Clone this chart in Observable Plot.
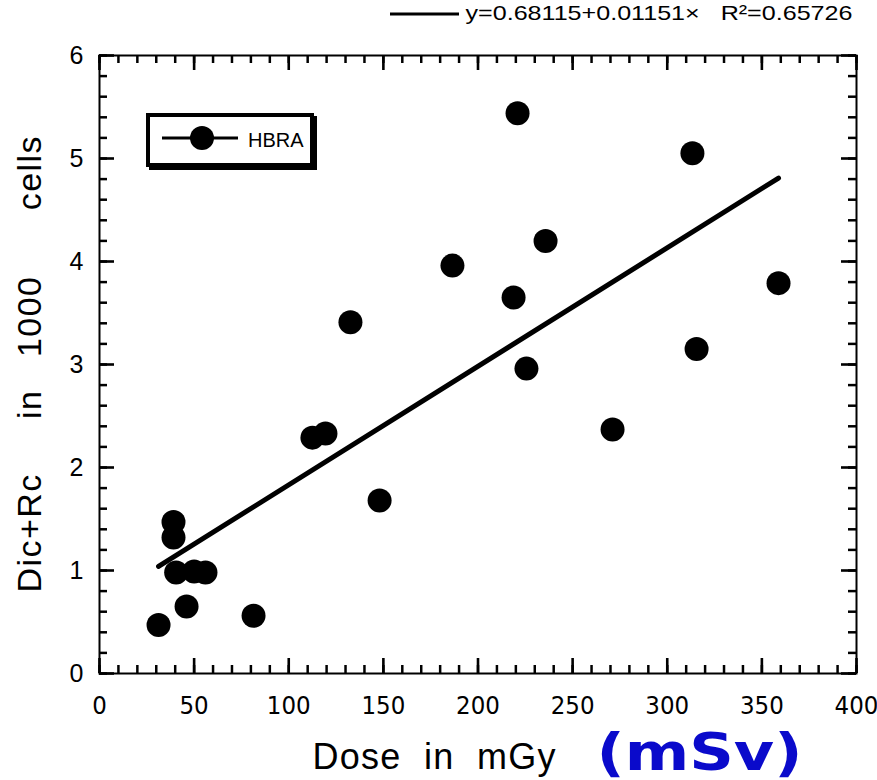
<!DOCTYPE html>
<html>
<head>
<meta charset="utf-8">
<script src="https://cdn.jsdelivr.net/npm/d3@7"></script>
<script src="https://cdn.jsdelivr.net/npm/@observablehq/plot@0.6"></script>
<style>
  html, body { margin: 0; padding: 0; background: #fff; }
  svg text { white-space: pre; }
</style>
</head>
<body>
<div id="chart"></div>
<script>
// ---- data ----
const doses = [31.2, 39.1, 39.1, 40.5, 46.0, 50.0, 56.0, 81.4, 112.5, 119.4, 132.6, 148.0,
               186.5, 218.8, 220.9, 225.6, 235.7, 271.1, 313.3, 315.5, 358.8];
const aberrations = [0.47, 1.47, 1.32, 0.98, 0.65, 0.99, 0.98, 0.56, 2.29, 2.33, 3.41, 1.68,
                     3.96, 3.65, 5.44, 2.96, 4.20, 2.37, 5.05, 3.15, 3.79];
const fitX = [31.2, 358.8];
const fitY = [1.04, 4.81];
const xTicks = [0, 50, 100, 150, 200, 250, 300, 350, 400];
const yTicks = [0, 1, 2, 3, 4, 5, 6];
const xMinorTicks = d3.range(0, 401, 10);
const yMinorTicks = d3.range(0, 31).map(i => i / 5);
const seriesName = "HBRA";
const fitLabel = "y=0.68115+0.01151×   R²=0.65726";
const xTitle = "Dose  in  mGy";
const xUnit = "(mSv)";
const yTitle = "Dic+Rc     in   1000      cells";

const points = doses.map((d, i) => ({dose: d, ab: aberrations[i]}));
const fit = fitX.map((d, i) => ({dose: d, ab: fitY[i]}));

const W = 877, H = 780;
const mL = 99, mR = 21, mT = 55, mB = 107;
const fW = W - mL - mR, fH = H - mT - mB;
const xDom = [0, 400], yDom = [0, 6];
const sans = "Liberation Sans, Arial, Helvetica, sans-serif";
const narrow = "Liberation Sans Narrow, Arial Narrow, DejaVu Sans Condensed, sans-serif";

const minor = {stroke: "black", strokeWidth: 2.5};
const major = {stroke: "black", strokeWidth: 2.6};
const minLen = 8, majLen = 15;

const chart = Plot.plot({
  width: W, height: H,
  marginLeft: mL, marginRight: mR, marginTop: mT, marginBottom: mB,
  x: {domain: xDom},
  y: {domain: yDom},
  marks: [
    Plot.frame({stroke: "black", strokeWidth: 2}),
    Plot.axisX({ticks: xTicks, tickSize: 0, tickPadding: 22, fontSize: 25.5, fontFamily: narrow, label: null, tickFormat: d => String(d)}),
    Plot.axisY({ticks: yTicks, tickSize: 0, tickPadding: 16, fontSize: 25, fontFamily: sans, label: null, tickFormat: d => String(d)}),
    // inward tick marks on all four sides
    Plot.ruleX(xMinorTicks, {x: d => d, y1: 0, y2: minLen * 6 / fH, ...minor}),
    Plot.ruleX(xMinorTicks, {x: d => d, y1: 6 - minLen * 6 / fH, y2: 6, ...minor}),
    Plot.ruleX(xTicks, {x: d => d, y1: 0, y2: majLen * 6 / fH, ...major}),
    Plot.ruleX(xTicks, {x: d => d, y1: 6 - majLen * 6 / fH, y2: 6, ...major}),
    Plot.ruleY(yMinorTicks, {y: d => d, x1: 0, x2: minLen * 400 / fW, ...minor}),
    Plot.ruleY(yMinorTicks, {y: d => d, x1: 400 - minLen * 400 / fW, x2: 400, ...minor}),
    Plot.ruleY(yTicks, {y: d => d, x1: 0, x2: majLen * 400 / fW, ...major}),
    Plot.ruleY(yTicks, {y: d => d, x1: 400 - majLen * 400 / fW, x2: 400, ...major}),
    // regression line and data
    Plot.line(fit, {x: "dose", y: "ab", stroke: "black", strokeWidth: 5, strokeLinecap: "round"}),
    Plot.dot(points, {x: "dose", y: "ab", r: 12, fill: "black", stroke: "none"}),
    // texts
    Plot.text([fitLabel], {frameAnchor: "top-right", dx: -4, dy: 13 - mT, textAnchor: "end", lineAnchor: "middle", fontSize: 21, fontFamily: sans}),
    Plot.text([yTitle], {frameAnchor: "left", dx: 30 - mL, dy: 0, rotate: -90, textAnchor: "middle", lineAnchor: "middle", fontSize: 34, fontFamily: sans}),
    Plot.text([xTitle], {frameAnchor: "bottom-left", dx: 312 - mL, dy: 757 - (H - mB), textAnchor: "start", lineAnchor: "middle", fontSize: 36, fontFamily: sans}),
    Plot.text([xUnit], {frameAnchor: "bottom-left", dx: 596 - mL, dy: 753 - (H - mB), textAnchor: "start", lineAnchor: "middle", fontSize: 51, fontWeight: "bold", fontFamily: "DejaVu Sans, Verdana, sans-serif", fill: "#0a0acb"})
  ]
});
chart.style.background = "white";
document.getElementById("chart").appendChild(chart);

const svg = d3.select(chart);

// inner legend box (with a small drop shadow), its line, dot and label
const g = svg.append("g");
g.append("rect").attr("x", 151).attr("y", 118).attr("width", 164).attr("height", 50)
  .attr("fill", "black").attr("stroke", "black").attr("stroke-width", 4);
g.append("rect").attr("x", 148).attr("y", 115).attr("width", 164).attr("height", 50)
  .attr("fill", "white").attr("stroke", "black").attr("stroke-width", 4);
g.append("line").attr("x1", 162).attr("x2", 238).attr("y1", 138).attr("y2", 138)
  .attr("stroke", "black").attr("stroke-width", 3);
g.append("circle").attr("cx", 202).attr("cy", 138).attr("r", 12).attr("fill", "black");
g.append("text").attr("x", 248).attr("y", 147).attr("font-size", 20)
  .attr("font-family", sans).attr("text-anchor", "start").attr("fill", "black").text(seriesName);
// top fit legend line
g.append("line").attr("x1", 390).attr("x2", 459).attr("y1", 14).attr("y2", 14)
  .attr("stroke", "black").attr("stroke-width", 3);

// stretch some labels to the widths seen in the reference
svg.selectAll("text").each(function() {
  const t = this.textContent;
  const widths = {};
  widths[fitLabel] = 387;
  widths[yTitle] = 456;
  widths[xTitle] = 243;
  widths[xUnit] = 206;
  if (t in widths) {
    this.setAttribute("textLength", widths[t]);
    this.setAttribute("lengthAdjust", (t === fitLabel || t === xUnit) ? "spacingAndGlyphs" : "spacing");
  }
});
</script>
</body>
</html>
